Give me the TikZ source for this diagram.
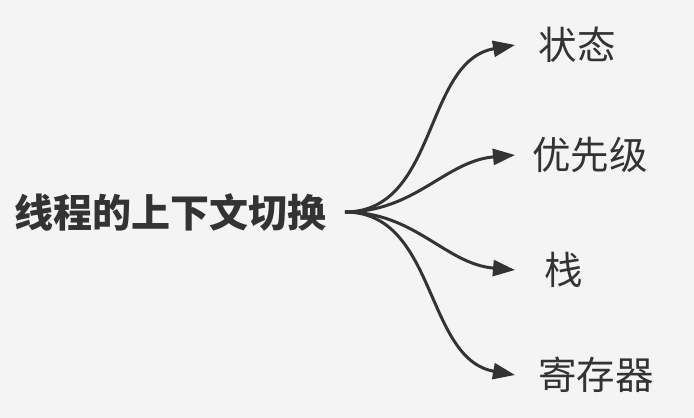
\documentclass[tikz,border=0pt]{standalone}
\usepackage{fontspec}
\usepackage{tikz}
\usetikzlibrary{arrows.meta,positioning}
\newfontfamily\cjk{Noto Sans CJK SC}
\definecolor{mybg}{RGB}{244,244,244}
\definecolor{mydark}{RGB}{51,51,51}

\begin{document}
\begin{tikzpicture}[x=1pt,y=1pt,
      root/.style={inner sep=0pt,text=mydark,font=\cjk\bfseries\fontsize{39}{39}\selectfont},
      leaf/.style={inner sep=0pt,text=mydark,font=\cjk\fontsize{38.5}{38.5}\selectfont},
      arr/.style={-{Triangle[length=22pt,width=16pt]},line width=3pt,mydark}]
    \fill[mybg] (0,0) rectangle (694,418);
    \useasboundingbox (0,0) rectangle (694,418);
    \node[root] (ctx) at (171,205) {线程的上下文切换};
    \coordinate (hub) at (345,206);
    \coordinate (tip) at (515,206);
    \node[leaf] (state) at (577,373) {状态};
    \node[leaf] (prio) at (590,263) {优先级};
    \node[leaf] (stack) at (564,148) {栈};
    \node[leaf] (reg) at (596,43) {寄存器};
    \draw[arr] (hub) to[out=0,in=190] (state.center -| tip);
    \draw[arr] (hub) to[out=0,in=185] (prio.center -| tip);
    \draw[arr] (hub) to[out=0,in=175] (stack.center -| tip);
    \draw[arr] (hub) to[out=0,in=170] (reg.center -| tip);
  \end{tikzpicture}
\end{document}
